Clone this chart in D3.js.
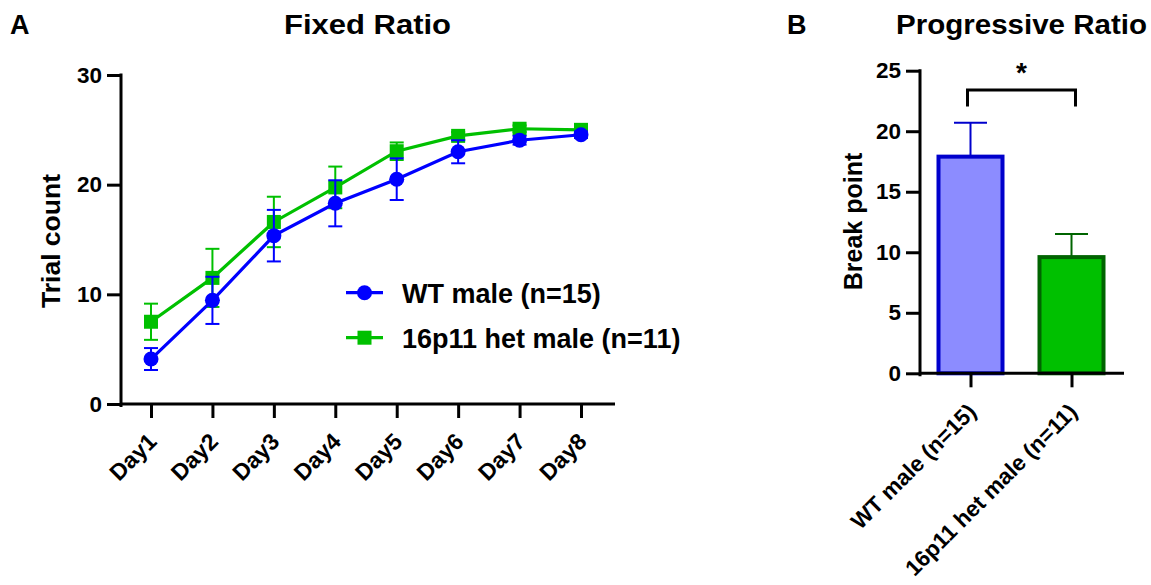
<!DOCTYPE html>
<html>
<head>
<meta charset="utf-8">
<script src="https://cdn.jsdelivr.net/npm/d3@7"></script>
<style>
  html, body { margin: 0; padding: 0; background: #fff; }
  svg { display: block; }
  text { font-family: "Liberation Sans", Arial, Helvetica, sans-serif; font-weight: bold; fill: #000; }
</style>
</head>
<body>
<script>
// ---------- data ----------
const days = ["Day1", "Day2", "Day3", "Day4", "Day5", "Day6", "Day7", "Day8"];
const wtMean = [4.1, 9.45, 15.35, 18.3, 20.5, 23.0, 24.05, 24.55];
const wtErr  = [1.0, 2.15, 2.35, 2.1, 1.9, 1.05, 0.4, 0.3];
const hetMean = [7.5, 11.5, 16.6, 19.75, 23.05, 24.45, 25.1, 25.0];
const hetErr  = [1.65, 2.65, 2.3, 1.9, 0.8, 0.35, 0.3, 0.3];
const fixedTicks = [0, 10, 20, 30];

const groups = ["WT male (n=15)", "16p11 het male (n=11)"];
const breakMean = [17.9, 9.6];
const breakErr = [2.8, 1.9];
const progTicks = [0, 5, 10, 15, 20, 25];

const seriesNames = ["WT male (n=15)", "16p11 het male (n=11)"];

// ---------- setup ----------
const W = 1151, H = 585;
const svg = d3.select("body").append("svg").attr("width", W).attr("height", H);

const BLUE = "#0000ff", GREEN = "#00c000";

// ---------- Panel A ----------
const xA = d3.scalePoint().domain(days).range([151, 581]);
const yA = d3.scaleLinear().domain([0, 30]).range([404, 75]);

const gA = svg.append("g");

// y axis
const yAxisA = gA.append("g").attr("transform", "translate(121,0)")
  .call(d3.axisLeft(yA).tickValues(fixedTicks).tickSize(14).tickSizeOuter(0).tickPadding(5));
yAxisA.select(".domain").remove();
yAxisA.selectAll(".tick line").attr("stroke", "#000").attr("stroke-width", 3);
yAxisA.selectAll(".tick text").style("font-size", "22.5px").attr("fill", "#000");
gA.append("line").attr("x1", 121).attr("x2", 121).attr("y1", yA(30) - 1.5).attr("y2", yA(0) + 3)
  .attr("stroke", "#000").attr("stroke-width", 3);

// x axis
const xAxisA = gA.append("g").attr("transform", `translate(0,${yA(0)})`)
  .call(d3.axisBottom(xA).tickSize(14).tickSizeOuter(0));
xAxisA.select(".domain").remove();
xAxisA.selectAll(".tick line").attr("stroke", "#000").attr("stroke-width", 3);
xAxisA.selectAll(".tick text").remove();
gA.append("line").attr("x1", 121).attr("x2", 615).attr("y1", yA(0)).attr("y2", yA(0))
  .attr("stroke", "#000").attr("stroke-width", 3);
gA.selectAll(".daylab").data(days).enter().append("text")
  .attr("class", "daylab")
  .attr("text-anchor", "end")
  .style("font-size", "23px")
  .attr("transform", d => `translate(${xA(d) + 7},${yA(0) + 39}) rotate(-45)`)
  .text(d => d);

// series
function drawSeries(mean, err, color, shape) {
  const g = gA.append("g");
  days.forEach((d, i) => {
    const x = xA(d), y1 = yA(mean[i] + err[i]), y2 = yA(mean[i] - err[i]);
    g.append("line").attr("x1", x).attr("x2", x).attr("y1", y1).attr("y2", y2)
      .attr("stroke", color).attr("stroke-width", 2);
    [y1, y2].forEach(yy => g.append("line").attr("x1", x - 7).attr("x2", x + 7)
      .attr("y1", yy).attr("y2", yy).attr("stroke", color).attr("stroke-width", 2));
  });
  const line = d3.line().x((v, i) => xA(days[i])).y(v => yA(v));
  g.append("path").attr("d", line(mean)).attr("fill", "none")
    .attr("stroke", color).attr("stroke-width", 3.2);
  if (shape === "circle") {
    g.selectAll("circle").data(mean).enter().append("circle")
      .attr("cx", (v, i) => xA(days[i])).attr("cy", v => yA(v)).attr("r", 7.5).attr("fill", color);
  } else {
    g.selectAll("rect").data(mean).enter().append("rect")
      .attr("x", (v, i) => xA(days[i]) - 7).attr("y", v => yA(v) - 7)
      .attr("width", 14).attr("height", 14).attr("fill", color);
  }
}
drawSeries(hetMean, hetErr, GREEN, "square");
drawSeries(wtMean, wtErr, BLUE, "circle");

// legend
const legY = [292.7, 337.7];
const leg = gA.append("g");
seriesNames.forEach((name, i) => {
  const c = i === 0 ? BLUE : GREEN;
  leg.append("line").attr("x1", 346).attr("x2", 383).attr("y1", legY[i]).attr("y2", legY[i])
    .attr("stroke", c).attr("stroke-width", 3.2);
  if (i === 0) leg.append("circle").attr("cx", 364.5).attr("cy", legY[i]).attr("r", 7.5).attr("fill", c);
  else leg.append("rect").attr("x", 357.5).attr("y", legY[i] - 7).attr("width", 14).attr("height", 14).attr("fill", c);
  leg.append("text").attr("x", 402).attr("y", legY[i] + 10.5).style("font-size", "27px").text(name);
});

// titles & labels
svg.append("text").attr("x", 10).attr("y", 34).style("font-size", "27px").text("A");
svg.append("text").attr("x", 367.5).attr("y", 34).attr("text-anchor", "middle")
  .style("font-size", "27px").attr("textLength", 167).attr("lengthAdjust", "spacingAndGlyphs").text("Fixed Ratio");
svg.append("text").attr("transform", "translate(60,241) rotate(-90)").attr("text-anchor", "middle")
  .style("font-size", "26.5px").text("Trial count");

// ---------- Panel B ----------
const xB = d3.scalePoint().domain(groups).range([970.5, 1071.5]);
const yB = d3.scaleLinear().domain([0, 25]).range([373.3, 70.7]);
const gB = svg.append("g");

const barFill = ["#8c8cff", "#00c000"];
const barStroke = ["#0000cc", "#006400"];
const barW = 64;

groups.forEach((gname, i) => {
  const x = xB(gname), yt = yB(breakMean[i] + breakErr[i]), yb = yB(breakMean[i]);
  gB.append("line").attr("x1", x).attr("x2", x).attr("y1", yt).attr("y2", yb)
    .attr("stroke", barStroke[i]).attr("stroke-width", 2);
  gB.append("line").attr("x1", x - 16.5).attr("x2", x + 16.5).attr("y1", yt).attr("y2", yt)
    .attr("stroke", barStroke[i]).attr("stroke-width", 2);
});
gB.selectAll(".bar").data(breakMean).enter().append("rect")
  .attr("class", "bar")
  .attr("x", (v, i) => xB(groups[i]) - barW / 2)
  .attr("y", v => yB(v))
  .attr("width", barW)
  .attr("height", v => yB(0) - yB(v))
  .attr("fill", (v, i) => barFill[i])
  .attr("stroke", (v, i) => barStroke[i])
  .attr("stroke-width", 4);

const yAxisB = gB.append("g").attr("transform", "translate(920,0)")
  .call(d3.axisLeft(yB).tickValues(progTicks).tickSize(14).tickSizeOuter(0).tickPadding(5));
yAxisB.select(".domain").remove();
yAxisB.selectAll(".tick line").attr("stroke", "#000").attr("stroke-width", 3);
yAxisB.selectAll(".tick text").style("font-size", "22.5px").attr("fill", "#000");
gB.append("line").attr("x1", 920).attr("x2", 920).attr("y1", yB(25) - 1.5).attr("y2", yB(0) + 3)
  .attr("stroke", "#000").attr("stroke-width", 3);

const xAxisB = gB.append("g").attr("transform", `translate(0,${yB(0)})`)
  .call(d3.axisBottom(xB).tickSize(14).tickSizeOuter(0));
xAxisB.select(".domain").remove();
xAxisB.selectAll(".tick line").attr("stroke", "#000").attr("stroke-width", 3);
xAxisB.selectAll(".tick text").remove();
gB.append("line").attr("x1", 920).attr("x2", 1124).attr("y1", yB(0)).attr("y2", yB(0))
  .attr("stroke", "#000").attr("stroke-width", 3);
gB.selectAll(".grplab").data(groups).enter().append("text")
  .attr("class", "grplab")
  .attr("text-anchor", "end")
  .style("font-size", "22.5px")
  .attr("transform", d => `translate(${xB(d) + 7},${yB(0) + 40}) rotate(-45)`)
  .text(d => d);

// significance bracket
const bx1 = xB(groups[0]) - 3, bx2 = xB(groups[1]) + 4;
const byTop = yB(23.4), byBot = yB(22.05);
gB.append("path")
  .attr("d", `M${bx1},${byBot}V${byTop}H${bx2}V${byBot}`)
  .attr("fill", "none").attr("stroke", "#000").attr("stroke-width", 3);
gB.append("text").attr("x", (bx1 + bx2) / 2).attr("y", 82).attr("text-anchor", "middle")
  .style("font-size", "28px").text("*");

svg.append("text").attr("x", 787).attr("y", 34).style("font-size", "27px").text("B");
svg.append("text").attr("x", 1021.5).attr("y", 34).attr("text-anchor", "middle")
  .style("font-size", "27px").attr("textLength", 251).attr("lengthAdjust", "spacingAndGlyphs").text("Progressive Ratio");
svg.append("text").attr("transform", "translate(862,221.5) rotate(-90)").attr("text-anchor", "middle")
  .style("font-size", "25px").text("Break point");
</script>
</body>
</html>
